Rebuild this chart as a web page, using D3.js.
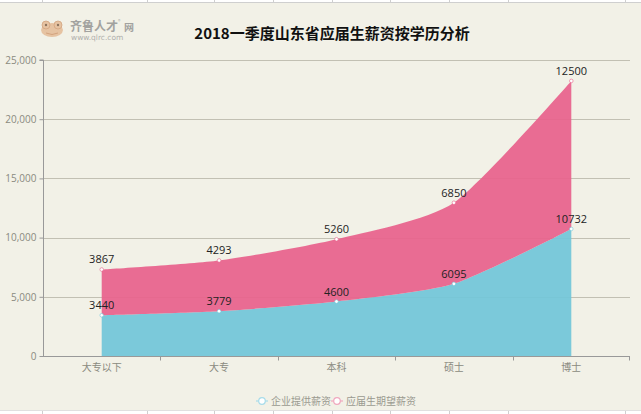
<!DOCTYPE html>
<html><head><meta charset="utf-8">
<script src="https://cdn.jsdelivr.net/npm/d3@7/dist/d3.min.js"></script>
<style>
html,body{margin:0;padding:0;background:#f2f1e7;}
svg{display:block;font-family:"Noto Sans CJK SC","Noto Sans",sans-serif;}
</style></head><body>
<svg id="c" width="641" height="414"></svg>
<script>
const categories = ["大专以下","大专","本科","硕士","博士"];
const offered = [3440, 3779, 4600, 6095, 10732];
const expected = [3867, 4293, 5260, 6850, 12500];
const seriesNames = ["企业提供薪资","应届生期望薪资"];
const yTicks = [0, 5000, 10000, 15000, 20000, 25000];
const title = "2018一季度山东省应届生薪资按学历分析";

const svg = d3.select("#c");
const W = 641, H = 414;
const m = {left:43, right:11, top:60, bottom:58};
const colors = ["#72c6d8", "#e8628c"];

svg.append("rect").attr("width",W).attr("height",H).attr("fill","#f2f1e7");

// table strips top/bottom
const strips = [[0,3],[410,4]];
const vlines = [42,147,214,273,332,390,449,508,625];
strips.forEach(([yy,h])=>{
  svg.append("rect").attr("x",0).attr("y",yy).attr("width",W).attr("height",h).attr("fill","#ffffff");
  vlines.forEach(xx=>svg.append("line").attr("x1",xx+0.5).attr("x2",xx+0.5).attr("y1",yy).attr("y2",yy+h).attr("stroke","#cfcfcf"));
});
svg.append("line").attr("x1",0).attr("x2",W).attr("y1",2.5).attr("y2",2.5).attr("stroke","#cfcfcf");
svg.append("line").attr("x1",0).attr("x2",W).attr("y1",410.5).attr("y2",410.5).attr("stroke","#e0e0e0");

const x = d3.scalePoint().domain(categories).range([m.left, W-m.right]).padding(0.5);
const xb = d3.scaleBand().domain(categories).range([m.left, W-m.right]);
const y = d3.scaleLinear().domain([0,25000]).range([H-m.bottom, m.top]);

// grid
svg.append("g").selectAll("line").data(yTicks.slice(1)).join("line")
  .attr("x1",m.left).attr("x2",W-m.right)
  .attr("y1",d=>Math.round(y(d))+0.5).attr("y2",d=>Math.round(y(d))+0.5)
  .attr("stroke","#c2c0b3").attr("stroke-width",1);

const data = categories.map((c,i)=>({c, a:offered[i], b:expected[i]}));

// smooth bezier segments
function smoothSegs(pts, s){
  const n = pts.length, cps = [];
  for(let i=0;i<n;i++){
    const p = pts[i];
    if(i===0||i===n-1){ cps.push([p,p]); continue; }
    const pr = pts[i-1], nx = pts[i+1];
    const vx = (nx[0]-pr[0])*s, vy = (nx[1]-pr[1])*s;
    cps.push([[p[0]-vx*0.5,p[1]-vy*0.5],[p[0]+vx*0.5,p[1]+vy*0.5]]);
  }
  const segs=[];
  for(let i=0;i<n-1;i++) segs.push([pts[i],cps[i][1],cps[i+1][0],pts[i+1]]);
  return segs;
}
function segPath(segs, p, moveFirst){
  segs.forEach((s,i)=>{
    if(i===0){ if(moveFirst) p.moveTo(s[0][0],s[0][1]); else p.lineTo(s[0][0],s[0][1]); }
    p.bezierCurveTo(s[1][0],s[1][1],s[2][0],s[2][1],s[3][0],s[3][1]);
  });
}
function revSegs(segs){ return segs.slice().reverse().map(s=>[s[3],s[2],s[1],s[0]]); }
const S = 0.22;
const ptsA = data.map(d=>[x(d.c), y(d.a)]);
const ptsB = data.map(d=>[x(d.c), y(d.a+d.b)]);
const segA = smoothSegs(ptsA,S), segB = smoothSegs(ptsB,S);

const pA = d3.path();
pA.moveTo(ptsA[0][0], y(0));
segPath(segA, pA, false);
pA.lineTo(ptsA[ptsA.length-1][0], y(0)); pA.closePath();
const pB = d3.path();
segPath(segB, pB, true);
segPath(revSegs(segA), pB, false);
pB.closePath();
svg.append("path").attr("d",pA.toString()).attr("fill",colors[0]).attr("fill-opacity",0.93);
svg.append("path").attr("d",pB.toString()).attr("fill",colors[1]).attr("fill-opacity",0.93);

// points
const pts = svg.append("g");
data.forEach(d=>{
  pts.append("circle").attr("cx",x(d.c)).attr("cy",y(d.a)).attr("r",1.8).attr("fill","#fff").attr("stroke",colors[0]).attr("stroke-width",0.6);
  pts.append("circle").attr("cx",x(d.c)).attr("cy",y(d.a+d.b)).attr("r",1.8).attr("fill","#fff").attr("stroke",colors[1]).attr("stroke-width",0.6);
});
// labels
const lab = svg.append("g").attr("font-size",11).attr("fill","#222").attr("text-anchor","middle").attr("font-family","'Open Sans','Noto Sans',sans-serif");
data.forEach(d=>{
  lab.append("text").attr("x",x(d.c)).attr("y",y(d.a)-6).text(d.a);
  lab.append("text").attr("x",x(d.c)).attr("y",y(d.a+d.b)-6).text(d.b);
});

// axes
const yAxis = svg.append("g").attr("transform",`translate(${m.left+0.5},0)`)
  .call(d3.axisLeft(y).tickValues(yTicks).tickSize(4).tickFormat(d3.format(",")));
yAxis.select(".domain").attr("stroke","#999").attr("d",`M-4,${y(25000)}H0V${y(0)}`);
yAxis.selectAll(".tick line").attr("stroke","#999");
yAxis.selectAll("text").attr("fill","#8a8a80").attr("font-size",10).attr("font-family","'Open Sans','Noto Sans',sans-serif");

const xAxis = svg.append("g").attr("transform",`translate(0,${Math.round(y(0))+0.5})`);
xAxis.append("line").attr("x1",m.left).attr("x2",W-m.right).attr("stroke","#999");
xAxis.selectAll(".tk").data(categories.slice(1)).join("line")
  .attr("x1",d=>Math.round(xb(d))+0.5).attr("x2",d=>Math.round(xb(d))+0.5).attr("y1",0).attr("y2",4).attr("stroke","#999");
xAxis.append("line").attr("x1",W-m.right-0.5).attr("x2",W-m.right-0.5).attr("y1",0).attr("y2",4).attr("stroke","#999");
xAxis.selectAll("text").data(categories).join("text")
  .attr("x",d=>x(d)).attr("y",14).attr("text-anchor","middle")
  .attr("font-size",10).attr("fill","#8a8a80").text(d=>d);

// title
svg.append("text").attr("x",332).attr("y",39).attr("text-anchor","middle")
  .attr("font-size",15).attr("font-weight","bold").attr("fill","#111").text(title);

// logo
const lg = svg.append("g").attr("opacity",0.75);
lg.append("ellipse").attr("cx",52).attr("cy",30).attr("rx",11).attr("ry",7).attr("fill","#e3b48c");
lg.append("circle").attr("cx",46).attr("cy",25).attr("r",4).attr("fill","#e3b48c").attr("stroke","#c98a5c").attr("stroke-width",0.8);
lg.append("circle").attr("cx",58).attr("cy",25).attr("r",4).attr("fill","#e3b48c").attr("stroke","#c98a5c").attr("stroke-width",0.8);
lg.append("circle").attr("cx",46).attr("cy",25).attr("r",1.2).attr("fill","#6a4a30");
lg.append("circle").attr("cx",58).attr("cy",25).attr("r",1.2).attr("fill","#6a4a30");
lg.append("path").attr("d","M46,33 Q52,36 58,33").attr("stroke","#c98a5c").attr("fill","none");
lg.append("text").attr("x",70).attr("y",31).attr("font-size",12).attr("font-weight","bold").attr("fill","#888").text("齐鲁人才");
lg.append("text").attr("x",124).attr("y",31).attr("font-size",10).attr("font-weight","bold").attr("fill","#888").text("网");
lg.append("text").attr("x",118).attr("y",23).attr("font-size",5).attr("fill","#999").text("®");
lg.append("text").attr("x",71).attr("y",40).attr("font-size",7.5).attr("fill","#999").attr("font-family","'DejaVu Sans',sans-serif").text("www.qlrc.com");

// legend
const legend = svg.append("g").attr("font-size",10).attr("fill","#9a9a90");
const items = [{x:256, name:seriesNames[0], col:"#a8dcea"},{x:331, name:seriesNames[1], col:"#f0a8bf"}];
items.forEach(it=>{
  const g = legend.append("g").attr("transform",`translate(${it.x},401)`);
  g.append("line").attr("x1",0).attr("x2",12).attr("y1",0).attr("y2",0).attr("stroke",it.col).attr("stroke-width",1.2);
  g.append("circle").attr("cx",6).attr("cy",0).attr("r",3.3).attr("fill","#fff").attr("stroke",it.col).attr("stroke-width",1.2);
  g.append("text").attr("x",15).attr("y",3.5).text(it.name);
});
</script>
</body></html>
